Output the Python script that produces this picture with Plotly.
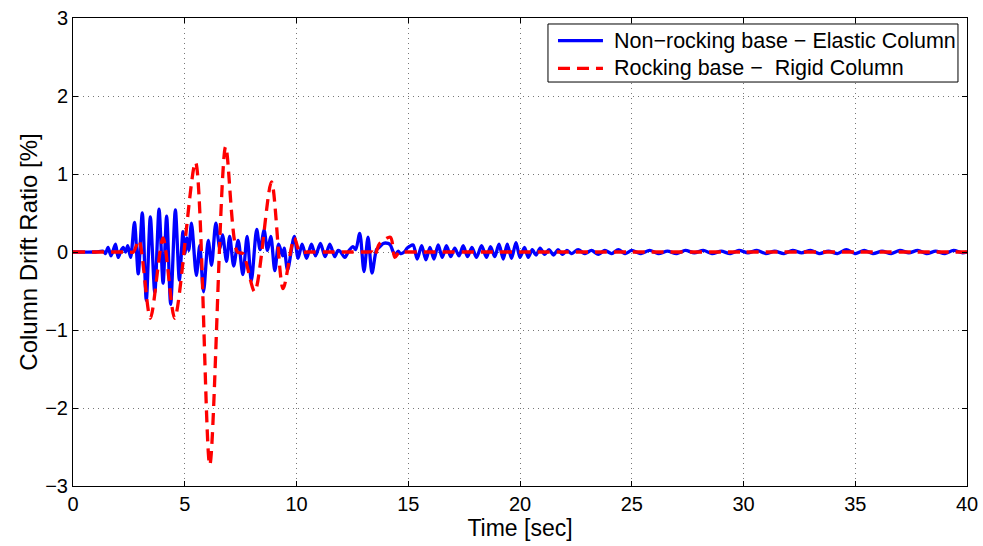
import plotly.graph_objects as go

# Column drift ratio time histories (extrema of each response, in seconds / percent)
t_elastic = [0, 1.0, 1.35, 1.45, 1.57, 1.7, 1.9, 2.02, 2.15, 2.25, 2.35, 2.45, 2.58,
             2.75, 2.92, 3.1, 3.28, 3.46, 3.66, 3.85, 4.03, 4.19, 4.37, 4.58, 4.76,
             4.92, 5.0, 5.1, 5.18, 5.3, 5.52, 5.67, 5.84, 6.05, 6.2, 6.39, 6.57, 6.69,
             6.87, 7.01, 7.19, 7.39, 7.6, 7.79, 7.98, 8.22, 8.37, 8.55, 8.7, 8.85,
             9.03, 9.2, 9.38, 9.45, 9.6, 9.9, 10.07, 10.25, 10.45, 10.67, 10.85,
             11.07, 11.28, 11.49, 11.71, 11.85, 11.95, 12.16, 12.35, 12.53, 12.65,
             12.83, 13.02, 13.2, 13.38, 13.58, 13.7, 13.88, 14.1, 14.2, 14.4, 14.55,
             14.65, 14.82, 14.95, 15.05, 15.22, 15.4, 15.6, 15.79, 15.97, 16.15,
             16.34, 16.52, 16.71, 16.9, 17.08, 17.27, 17.46, 17.65, 17.85, 18.05,
             18.28, 18.5, 18.68, 18.87, 19.06, 19.25, 19.43, 19.62, 19.82, 20.0,
             20.2, 20.37, 20.55, 20.72, 20.9, 21.1, 21.3, 21.5, 21.7, 21.9, 22.1,
             22.3, 22.6, 22.9, 23.2, 23.5, 23.8, 24.1, 24.4, 24.7, 25.0, 25.4, 25.8,
             26.2, 26.6, 27.0, 27.4, 27.8, 28.2, 28.6, 29.0, 29.4, 29.8, 30.2, 30.6,
             31.0, 31.4, 31.8, 32.2, 32.6, 33.0, 33.4, 33.8, 34.2, 34.6, 35.0, 35.4,
             35.8, 36.2, 36.6, 37.0, 37.4, 37.8, 38.2, 38.6, 39.0, 39.4, 39.8, 40.0]
drift_elastic = [0, 0, 0.01, -0.02, 0.06, -0.05, 0.1, -0.07, 0.02, 0.06, 0.0, 0.08, -0.07,
                 0.38, -0.28, 0.5, -0.62, 0.45, -0.52, 0.55, -0.4, 0.46, -0.67, 0.54, -0.36,
                 0.26, -0.02, 0.18, 0.02, 0.37, -0.3, 0.08, -0.51, 0.15, -0.17, 0.37, 0.04, 0.22,
                 -0.12, 0.2, -0.18, 0.15, -0.29, 0.2, -0.37, 0.29, 0.03, 0.28, 0.02, 0.2,
                 -0.24, 0.1, -0.05, 0.05, -0.23, 0.2, -0.08, 0.1, -0.08, 0.1, -0.05,
                 0.11, -0.06, 0.1, -0.06, 0.02, 0.01, -0.07, 0.02, 0.07, 0.03,
                 0.24, -0.25, 0.19, -0.27, 0.03, 0.06, 0.11, 0.11, 0.09, -0.04, 0.01,
                 -0.02, 0.0, 0.05, 0.07, 0.09, -0.09, 0.08, -0.1, 0.06, -0.09,
                 0.09, -0.07, 0.08, -0.06, 0.05, -0.05, 0.08, -0.06, 0.06, -0.07,
                 0.08, -0.07, 0.07, -0.06, 0.1, -0.09, 0.1, -0.08, 0.12, -0.07,
                 0.06, -0.07, 0.03, -0.04, 0.05, -0.03, 0.03, -0.04, 0.03, -0.03, 0.02,
                 -0.02, 0.03, -0.02, 0.02, -0.03, 0.02, -0.02, 0.03, -0.02, 0.02, -0.02, 0.02,
                 -0.02, 0.01, -0.02, 0.02, -0.01, 0.02, -0.02, 0.01, -0.02, 0.02, -0.01, 0.02,
                 -0.02, 0.01, -0.02, 0.02, -0.01, 0.02, -0.02, 0.01, -0.02, 0.03, -0.02, 0.02,
                 -0.02, 0.01, -0.02, 0.02, -0.01, 0.02, -0.02, 0.01, -0.02, 0.02, -0.01, 0.0]

t_rocking = [0, 1.0, 2.0, 2.5, 2.7, 2.95, 3.46, 4.03, 4.55, 5.48, 6.12, 6.83, 7.35, 7.6,
             8.13, 8.88, 9.4, 9.9, 10.15, 10.5, 11.5, 12.5, 13.2, 13.4, 13.5, 13.7, 14.2,
             14.4, 14.6, 14.8, 15.5, 20.0, 25.0, 30.0, 35.0, 40.0]
drift_rocking = [0, 0, 0, 0, 0, 0.15, -0.85, 0.18, -0.85, 1.15, -2.73, 1.35, 0.0, -0.02,
                 -0.51, 0.9, -0.47, 0.18, 0.0, 0.0, 0.0, 0.0, 0.0, 0.0, -0.05, 0.1, 0.19,
                 -0.07, 0.0, 0.0, 0.0, 0.0, 0.0, 0.0, 0.0, 0.0]

series_names = ["Non\u2212rocking base \u2212 Elastic Column",
                "Rocking base \u2212 \u00a0Rigid Column"]
series_colors = ["rgb(0,0,255)", "rgb(255,0,0)"]
series_dashes = ["solid", "12px,7px"]

x_ticks = [0, 5, 10, 15, 20, 25, 30, 35, 40]
y_ticks = [-3, -2, -1, 0, 1, 2, 3]
y_tick_text = ["\u22123", "\u22122", "\u22121", "0", "1", "2", "3"]

FONT = "Liberation Sans, Arial, Helvetica, sans-serif"
LINE_W = 3.3

fig = go.Figure()
for tx, ty, name, color, dash in zip([t_elastic, t_rocking], [drift_elastic, drift_rocking],
                                     series_names, series_colors, series_dashes):
    fig.add_trace(go.Scatter(
        x=tx, y=ty, mode="lines", name=name, showlegend=False,
        line=dict(color=color, width=LINE_W, dash=dash, shape="spline", smoothing=0.8),
    ))

axis_common = dict(
    showline=True, linecolor="black", linewidth=1, mirror="ticks",
    ticks="inside", ticklen=5, tickcolor="black",
    showgrid=True, gridcolor="#777777", griddash="1px,4px", gridwidth=1,
    zeroline=False, automargin=False,
    tickfont=dict(family=FONT, size=20, color="black"),
)

fig.update_xaxes(
    range=[0, 40], tickvals=x_ticks,
    title=dict(text="Time [sec]", standoff=0,
               font=dict(family=FONT, size=23, color="black")),
    **axis_common,
)
fig.update_yaxes(
    range=[-3, 3], tickvals=y_ticks, ticktext=y_tick_text,
    title=dict(text="Column Drift Ratio [%]", standoff=0,
               font=dict(family=FONT, size=24, color="black")),
    **axis_common,
)

# Boxed key in the upper-right corner of the axes (paper coordinates)
box_x0, box_x1, box_y0, box_y1 = 0.5313, 0.9899, 0.8632, 0.9872
sample_x0, sample_x1, label_x = 0.5425, 0.5928, 0.6029
row_y = [0.9515, 0.8925]

shapes = [dict(type="rect", xref="paper", yref="paper", x0=box_x0, x1=box_x1,
               y0=box_y0, y1=box_y1, fillcolor="white",
               line=dict(color="black", width=1), layer="above")]
annotations = []
for name, color, dash, yy in zip(series_names, series_colors, series_dashes, row_y):
    shapes.append(dict(type="line", xref="paper", yref="paper", x0=sample_x0, x1=sample_x1,
                       y0=yy, y1=yy, line=dict(color=color, width=LINE_W, dash=dash),
                       layer="above"))
    annotations.append(dict(xref="paper", yref="paper", x=label_x, y=yy, text=name,
                            showarrow=False, xanchor="left", yanchor="middle",
                            font=dict(family=FONT, size=21.5, color="black")))

fig.update_layout(
    width=983, height=546,
    margin=dict(l=73, r=16, t=18, b=60),
    paper_bgcolor="white", plot_bgcolor="white",
    shapes=shapes, annotations=annotations,
)

fig.write_html("out.html")
